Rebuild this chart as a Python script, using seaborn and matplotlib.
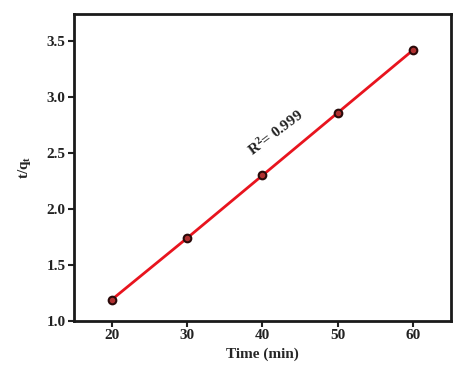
import matplotlib
matplotlib.use("Agg")
import matplotlib.pyplot as plt
import seaborn as sns
import pandas as pd

time_min = [20, 30, 40, 50, 60]
t_over_qt = [1.19, 1.74, 2.30, 2.86, 3.42]
x_ticks = [20, 30, 40, 50, 60]
y_ticks = [1.0, 1.5, 2.0, 2.5, 3.0, 3.5]

sns.set_theme(style="ticks")
plt.rcParams['font.family'] = ['Liberation Serif', 'DejaVu Serif']
plt.rcParams['font.weight'] = 'bold'
plt.rcParams['mathtext.fontset'] = 'custom'
plt.rcParams['mathtext.rm'] = 'Liberation Serif:bold'
plt.rcParams['mathtext.bf'] = 'Liberation Serif:bold'
plt.rcParams['mathtext.it'] = 'Liberation Serif:bold'
plt.rcParams['mathtext.default'] = 'bf'

df = pd.DataFrame({"Time": time_min, "tq": t_over_qt})

fig = plt.figure(figsize=(4.56, 3.76), dpi=100)
ax = fig.add_axes([74/456, 1-321/376, (451-74)/456, (321-14)/376])

sns.lineplot(data=df, x="Time", y="tq", ax=ax, color="#e8141e", lw=2,
             marker="o", markersize=5.5, markerfacecolor="#b03030",
             markeredgecolor="#2a0a0a", markeredgewidth=1.5)

ax.set_xlim(15, 65)
ax.set_ylim(1.0, 3.74)
ax.set_xticks(x_ticks)
ax.set_yticks(y_ticks)
ax.set_yticklabels([f"{v:.1f}" for v in y_ticks])
ax.tick_params(direction="out", length=4, width=1.5, labelsize=11, colors="#222222", pad=2)
for lab in ax.get_xticklabels() + ax.get_yticklabels():
    lab.set_fontweight("bold")
for s in ax.spines.values():
    s.set_linewidth(2)
    s.set_color("#1a1a1a")
    s.set_visible(True)

ax.set_xlabel("Time (min)", fontsize=11, fontweight="bold", labelpad=4)
ax.set_ylabel(r"t/q$_\mathbf{t}$", fontsize=11, fontweight="bold", labelpad=10)
ax.text(41.8, 2.68, r"R$^\mathbf{2}$= 0.999", rotation=37, fontsize=11,
        fontweight="bold", ha="center", va="center", color="#222222",
        rotation_mode="anchor")

fig.savefig("out.png", dpi=100)
